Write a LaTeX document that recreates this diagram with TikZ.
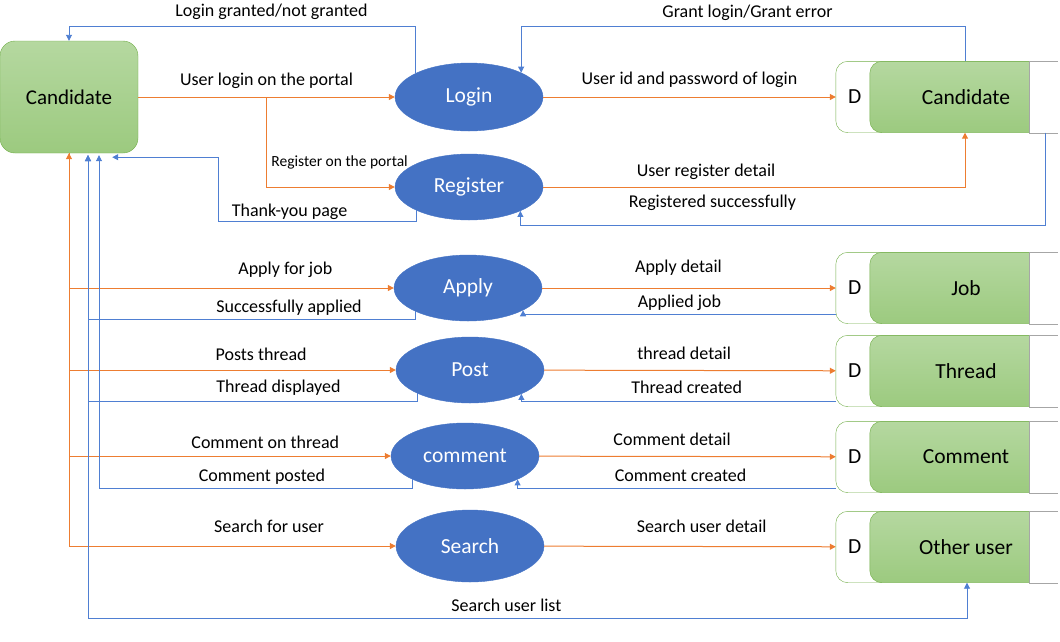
\documentclass[tikz,border=0pt]{standalone}
\usepackage{fontspec}
\setmainfont{Carlito}
\usepackage{xcolor}
\usepackage{tikz}
\usetikzlibrary{positioning, arrows.meta, shapes.geometric, calc}

\definecolor{ggreen}{HTML}{70AD47}
\definecolor{gtop}{HTML}{B5D8A0}
\definecolor{gbot}{HTML}{9CCA7F}
\definecolor{pblue}{HTML}{4472C4}
\definecolor{lorange}{HTML}{ED7D31}
\definecolor{lblue}{HTML}{4F7FD2}
\definecolor{sgray}{HTML}{A6A6A6}

\begin{document}
\begin{tikzpicture}[
  x=1pt, y=-1pt, on grid,
  >={Triangle[length=6pt,width=6pt]},
  entity/.style={rectangle, draw=ggreen, rounded corners=15pt, top color=gtop, bottom color=gbot,
    minimum width=138pt, minimum height=112pt, font=\fontsize{21}{25}\selectfont},
  process/.style={ellipse, fill=pblue, draw=pblue, text=white, inner sep=0pt,
    minimum width=148pt, minimum height=66pt, font=\fontsize{21.5}{25}\selectfont},
  store/.style={rectangle, inner sep=0pt, minimum width=222pt, minimum height=71pt},
  storebox/.style={draw=ggreen, top color=gtop, bottom color=gbot, rounded corners=12pt},
  storeedge/.style={draw=ggreen, rounded corners=12pt},
  storetext/.style={font=\fontsize{21.5}{25}\selectfont},
  oarrow/.style={->, draw=lorange, line width=1pt},
  barrow/.style={->, draw=lblue, line width=0.9pt},
  flowtext/.style={font=\fontsize{18}{21}\selectfont},
  smalltext/.style={font=\fontsize{15.5}{18}\selectfont}
]
  \useasboundingbox (0,0) rectangle (1060,641);

  % External entity
  \node[entity] (cand) at (69,97) {Candidate};

  % Processes
  \node[process, minimum height=68pt] (login) at (469,97) {Login};
  \node[process, below=90pt of login] (register) {Register};
  \node[process, below=101pt of register, xshift=-1pt] (apply) {Apply};
  \node[process, below=82pt of apply, xshift=2pt] (post) {Post};
  \node[process, below=86pt of post, xshift=-5pt] (comment) {comment};
  \node[process, below=90pt of comment, xshift=5pt, minimum height=72pt] (search) {Search};

  % Data stores
  \foreach \s/\y/\t in {cstore/97/Candidate, job/288/Job, thread/371/Thread, cmt/457/Comment, other/547/Other user} {
    \node[store] (\s) at (947,\y) {};
    \draw[storeedge] ([xshift=-29pt]\s.north east) -- (\s.north west) -- (\s.south west) -- ([xshift=-29pt]\s.south east);
    \path[storebox] ([xshift=-29pt]\s.north east) -- ([xshift=34pt]\s.north west) -- ([xshift=34pt]\s.south west) -- ([xshift=-29pt]\s.south east);
    \draw[sgray] ([xshift=-29pt]\s.north east) -- (\s.north east)
      ([xshift=-29pt]\s.south east) -- (\s.south east)
      ([xshift=-29pt]\s.north east) -- ([xshift=-29pt]\s.south east);
    \node[storetext] (\s-d) at ([xshift=19pt]\s.west) {D};
    \node[storetext] (\s-name) at ([xshift=19pt]\s.center) {\t};
  }

  \coordinate (split) at ($(cand.east)!0.5!(login.west)$);
  \coordinate (trunkA) at ([xshift=19pt,yshift=-2pt]cand.south);
  \coordinate (trunkB) at ([xshift=30pt,yshift=-2pt]cand.south);
  \coordinate (tyend) at ([xshift=-26pt,yshift=-4pt]cand.south east);

  % Login and register
  \draw[oarrow] (cand) -- node[flowtext, yshift=16pt] {User login on the portal} (login);
  \draw[oarrow] (split) |- node[pos=0.785, smalltext, yshift=25pt] {Register on the portal} (register);
  \draw[barrow] (login.156) |- node[pos=0.708, flowtext, yshift=15pt] {Login granted/not granted} ([yshift=14pt]cand.north) -- (cand.north);
  \draw[oarrow] (login) -- node[flowtext, yshift=17pt] {User id and password of login} (cstore);
  \draw[barrow] ([xshift=18pt]cstore.north) -- ++(0,-35) -| node[pos=0.245, flowtext, yshift=14pt] {Grant login/Grant error} (login.25);
  \draw[oarrow] (register) -| node[pos=0.193, flowtext, yshift=15pt] {User register detail} ([xshift=18pt]cstore.south);
  \draw[barrow] ([xshift=98pt]cstore.south) -- ++(0,93) -| node[pos=0.317, flowtext, yshift=23pt] {Registered successfully} (register.335);
  \draw[barrow] (register.204) -- ++(0,11) -| node[pos=0.32, flowtext, yshift=10pt] {Thank-you page} ([xshift=106pt]tyend) -- (tyend);

  % Apply
  \draw[oarrow] (cand) |- node[pos=0.833, flowtext, yshift=18pt] {Apply for job} (apply);
  \draw[barrow] (apply.204) -- ++(0,8) -| node[pos=0.193, flowtext, yshift=12pt] {Successfully applied} (trunkA);
  \draw[oarrow] (apply) -- node[pos=0.464, flowtext, yshift=20pt] {Apply detail} (job);
  \draw[barrow] ([yshift=-26pt]job.west) -| node[pos=0.25, flowtext, yshift=11pt] {Applied job} (apply.338);

  % Post
  \draw[oarrow] (cand) |- node[pos=0.794, flowtext, yshift=16pt] {Posts thread} (post);
  \draw[barrow] (post.204) -- ++(0,8) -| node[pos=0.211, flowtext, yshift=14pt] {Thread displayed} (trunkA);
  \draw[oarrow] (post) -- node[pos=0.48, flowtext, yshift=17pt] {thread detail} (thread);
  \draw[barrow] ([yshift=-30pt]thread.west) -| node[pos=0.237, flowtext, yshift=14pt] {Thread created} (post.335);

  % Comment
  \draw[oarrow] (cand) |- node[pos=0.805, flowtext, yshift=14pt] {Comment on thread} (comment);
  \draw[barrow] (comment.204) -- ++(0,9) -| node[pos=0.24, flowtext, yshift=12pt] {Comment posted} (trunkB);
  \draw[oarrow] (comment) -- node[pos=0.448, flowtext, yshift=17pt] {Comment detail} (cmt);
  \draw[barrow] ([yshift=-31pt]cmt.west) -| node[pos=0.244, flowtext, yshift=13pt] {Comment created} (comment.336);

  % Search
  \draw[oarrow, <->] (cand) |- node[pos=0.806, flowtext, yshift=20pt] {Search for user} (search);
  \draw[oarrow] (search) -- node[pos=0.54, flowtext, yshift=20pt] {Search user detail} (other);
  \draw[barrow, <->] ([xshift=20pt]other.south) -- ++(0,36) -| node[pos=0.262, flowtext, yshift=13pt] {Search user list} (trunkA);
\end{tikzpicture}
\end{document}
